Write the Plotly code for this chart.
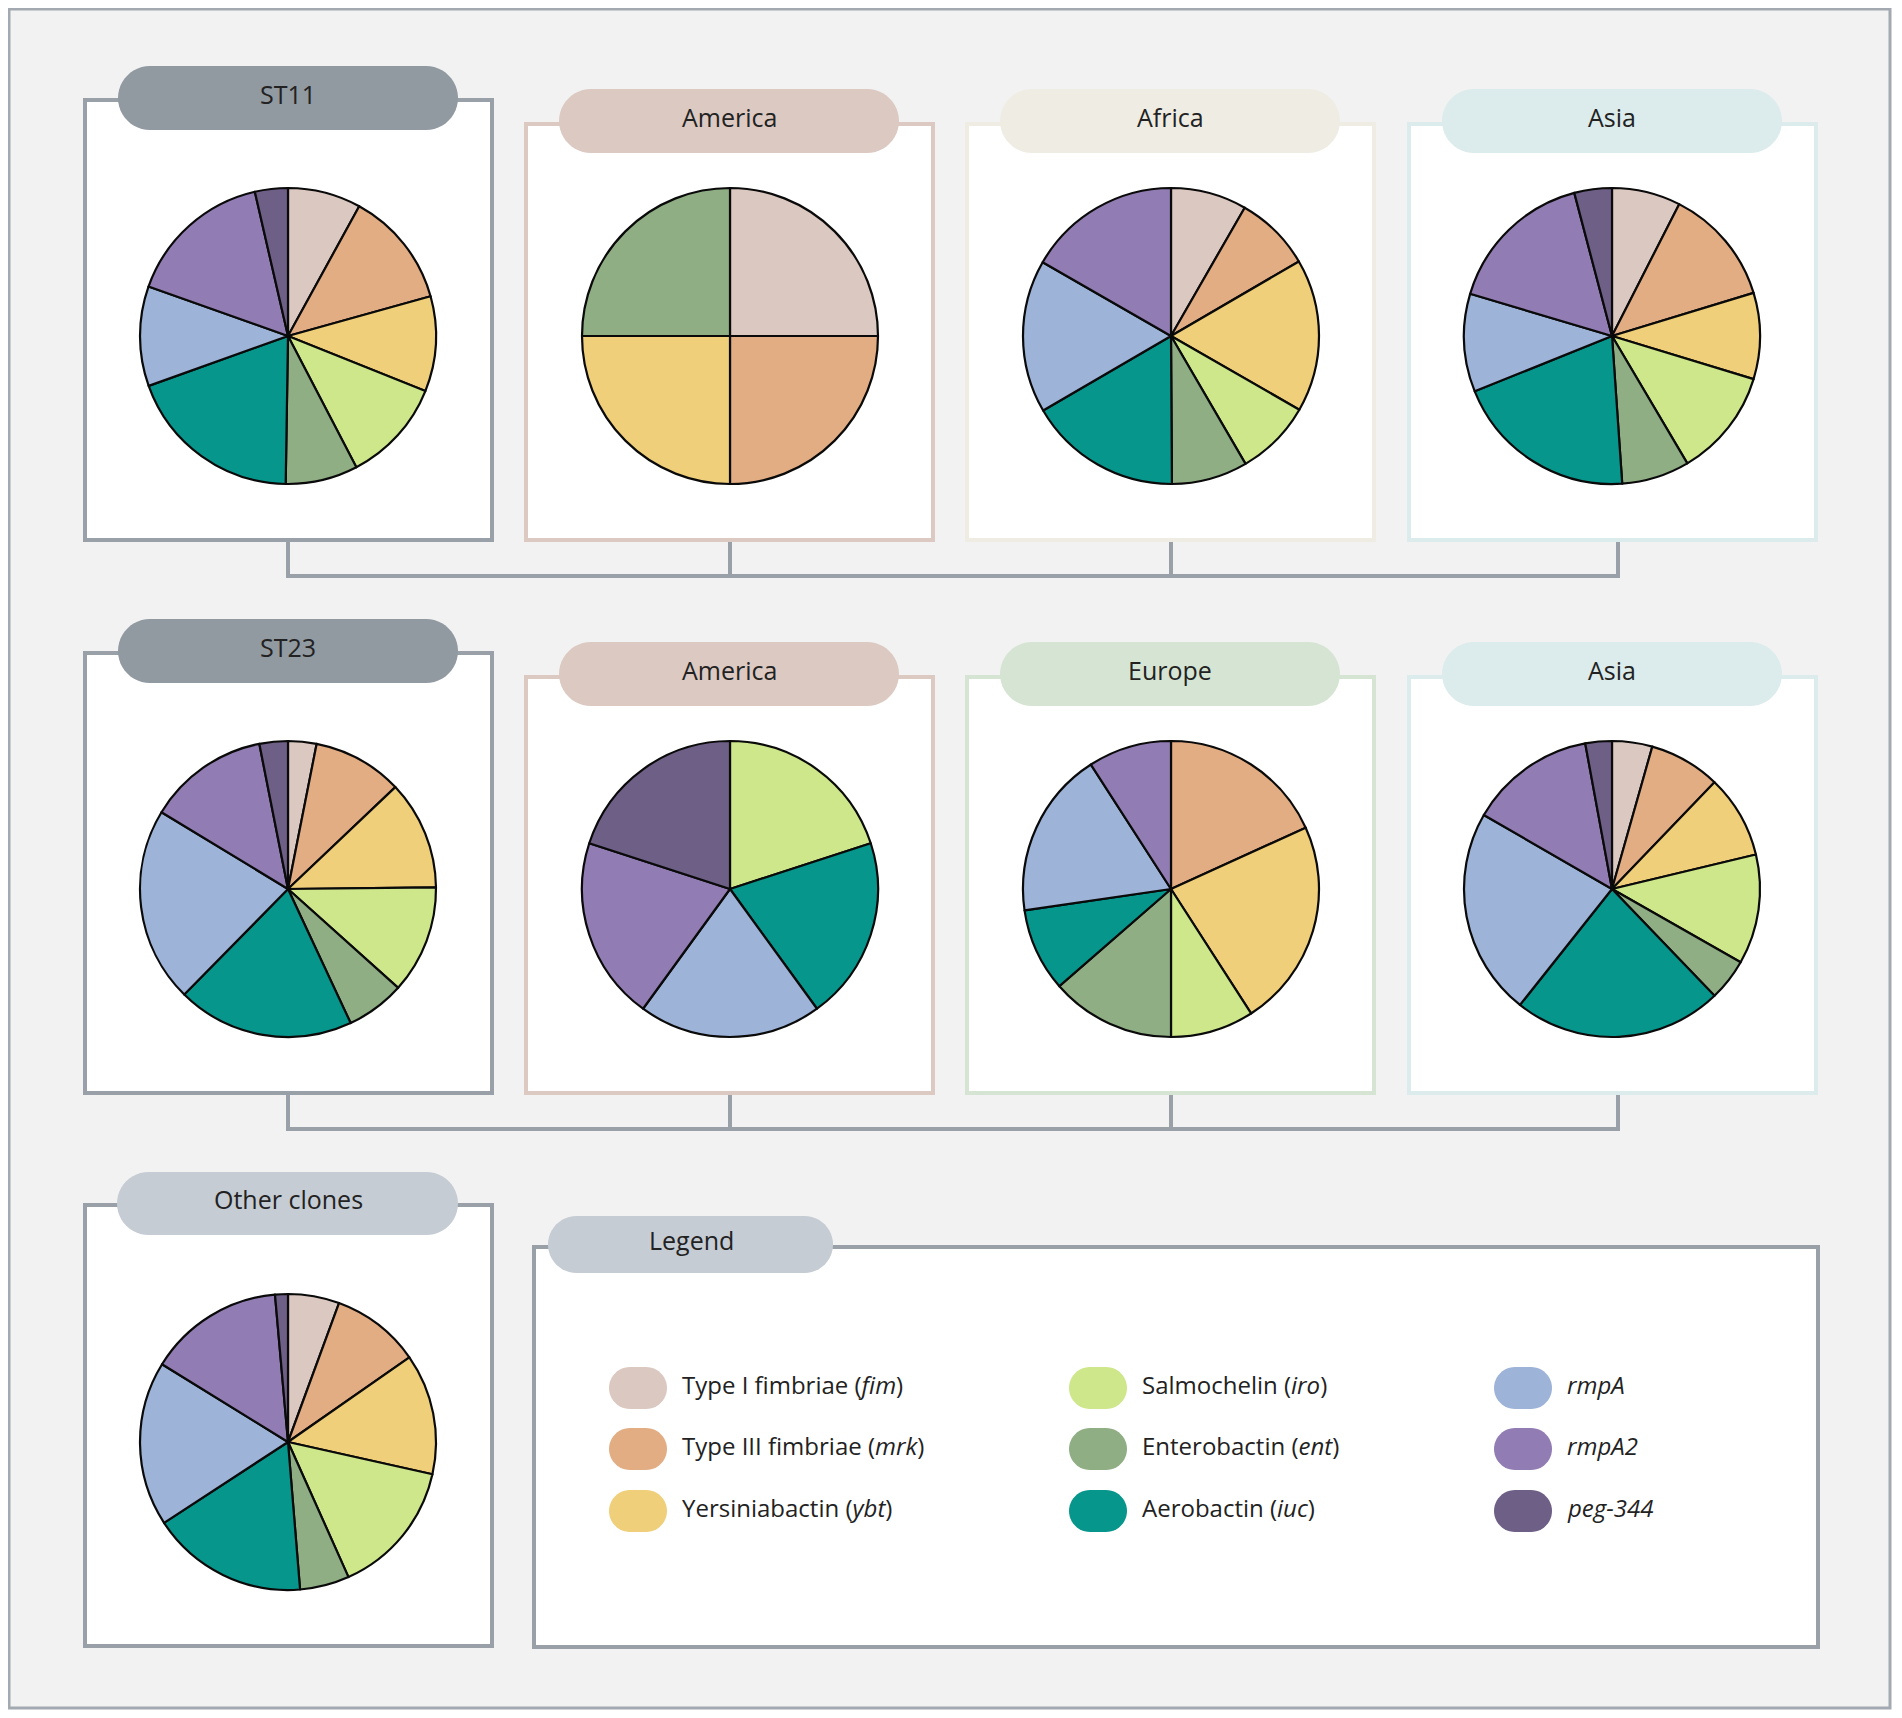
import numpy as np
import plotly.graph_objects as go

# virulence loci, in slice order (clockwise from 12 o'clock)
genes = ["fim", "mrk", "ybt", "iro", "ent", "iuc", "rmpA", "rmpA2", "peg-344"]
gene_colors = ["#dbc8c0", "#e3ad84", "#f0cf7a", "#cde78a", "#8fae84",
               "#07968c", "#9db3d8", "#917db3", "#6e5f86"]
legend_labels = ["Type I fimbriae (<i>fim</i>)", "Type III fimbriae (<i>mrk</i>)",
                 "Yersiniabactin (<i>ybt</i>)", "Salmochelin (<i>iro</i>)",
                 "Enterobactin (<i>ent</i>)", "Aerobactin (<i>iuc</i>)",
                 "<i>rmpA</i>", "<i>rmpA2</i>", "<i>peg-344</i>"]

# share of each locus (%)
st11_all    = [8.0, 12.7, 10.4, 11.3, 7.9, 19.3, 10.9, 16.0, 3.6]
st11_amer   = [25, 25, 25, 0, 25, 0, 0, 0, 0]
st11_africa = [8.3, 8.3, 16.7, 8.3, 8.3, 16.7, 16.7, 16.7, 0]
st11_asia   = [7.5, 12.8, 9.4, 11.8, 7.4, 20.0, 10.7, 16.3, 4.1]
st23_all    = [3.1, 9.8, 11.9, 11.8, 6.4, 19.3, 21.3, 13.2, 3.1]
st23_amer   = [0, 0, 0, 20, 0, 20, 20, 20, 20]
st23_europe = [0, 18.2, 22.7, 9.1, 13.6, 9.1, 18.2, 9.1, 0]
st23_asia   = [4.4, 7.8, 9.1, 12.0, 4.6, 22.9, 22.7, 13.8, 2.9]
other_clones = [5.6, 9.7, 13.2, 14.8, 5.4, 17.1, 18.0, 14.8, 1.4]

W, H = 1886, 1702   # figure size; page adds 8px body margin
OX, OY = 8, 8

BORDER = "#9aa0a8"
TXT = "#222222"
FONT = "Open Sans"

fig = go.Figure()
shapes, annots = [], []


def pill(x0, y0, x1, y1, color):
    r = (y1 - y0) / 2
    pts = []
    for a in np.linspace(-np.pi / 2, np.pi / 2, 25):
        pts.append((x1 - r + r * np.cos(a), (y0 + y1) / 2 + r * np.sin(a)))
    for a in np.linspace(np.pi / 2, 3 * np.pi / 2, 25):
        pts.append((x0 + r + r * np.cos(a), (y0 + y1) / 2 + r * np.sin(a)))
    path = "M " + " L ".join(f"{x:.1f},{y:.1f}" for x, y in pts) + " Z"
    return dict(type="path", path=path, xref="x", yref="y", fillcolor=color,
                line=dict(width=0), layer="below")


def box(x0, y0, x1, y1, color, width=4, fill="white"):
    return dict(type="rect", x0=x0, y0=y0, x1=x1, y1=y1, xref="x", yref="y",
                fillcolor=fill, line=dict(color=color, width=width), layer="below")


def label(x, y, text, size=25, anchor="center"):
    return dict(x=x, y=y, xref="x", yref="y", text=text, showarrow=False,
                xanchor=anchor, yanchor="middle",
                font=dict(family=FONT, size=size, color=TXT))


def add_pie(vals, cx, cy, r=148):
    lab = [g for g, v in zip(genes, vals) if v > 0]
    col = [c for c, v in zip(gene_colors, vals) if v > 0]
    v = [x for x in vals if x > 0]
    fig.add_trace(go.Pie(
        values=v, labels=lab, sort=False, direction="clockwise", rotation=0,
        marker=dict(colors=col, line=dict(color="#0a0a0a", width=2.2)),
        textinfo="none", hoverinfo="label+percent", showlegend=False,
        domain=dict(x=[(cx - r - OX) / W, (cx + r - OX) / W],
                    y=[(OY + H - (cy + r)) / H, (OY + H - (cy - r)) / H]),
    ))


# outer frame
shapes.append(box(9, 9, 1890, 1708, "#a3a9b0", width=3, fill="#f2f2f2"))

box_x = [85, 526, 967, 1409]
pie_x = [288, 730, 1171, 1612]
conn_x = [288, 730, 1171, 1618]
rows = [
    ("ST11", [st11_all, st11_amer, st11_africa, st11_asia],
     ["America", "Africa", "Asia"], ["#dcc9c2", "#efede3", "#dcebeb"]),
    ("ST23", [st23_all, st23_amer, st23_europe, st23_asia],
     ["America", "Europe", "Asia"], ["#dcc9c2", "#d6e5d3", "#dcebeb"]),
]
row_step = 553

for k, (clone, data, regions, rcols) in enumerate(rows):
    dy = k * row_step
    bottom = 540 + dy
    # clone panel
    shapes.append(box(box_x[0], 100 + dy, box_x[0] + 407, bottom, BORDER))
    shapes.append(pill(box_x[0] + 33, 66 + dy, box_x[0] + 373, 130 + dy, "#9199a1"))
    annots.append(label(box_x[0] + 203, 94 + dy, clone))
    # region panels
    for j in range(3):
        bx = box_x[j + 1]
        shapes.append(box(bx, 124 + dy, bx + 407, bottom, rcols[j]))
        shapes.append(pill(bx + 33, 89 + dy, bx + 373, 153 + dy, rcols[j]))
        annots.append(label(bx + 203, 117 + dy, regions[j]))
    # connector bracket
    for cx in conn_x:
        shapes.append(dict(type="line", x0=cx, x1=cx, y0=bottom + 2, y1=576 + dy,
                           xref="x", yref="y", line=dict(color=BORDER, width=4),
                           layer="below"))
    shapes.append(dict(type="line", x0=conn_x[0] - 2, x1=conn_x[-1] + 2,
                       y0=576 + dy, y1=576 + dy, xref="x", yref="y",
                       line=dict(color=BORDER, width=4), layer="below"))
    for j, vals in enumerate(data):
        add_pie(vals, pie_x[j], 336 + dy)

# other clones panel
shapes.append(box(85, 1205, 492, 1646, BORDER))
shapes.append(pill(117, 1172, 458, 1235, "#c6ccd4"))
annots.append(label(288, 1199, "Other clones"))
add_pie(other_clones, 288, 1442)

# legend panel
shapes.append(box(534, 1247, 1818, 1647, BORDER))
shapes.append(pill(548, 1216, 833, 1273, "#c6ccd4"))
annots.append(label(691, 1240, "Legend"))

leg_mx = [638, 1098, 1523]
leg_y = [1388, 1449, 1511]
for i, (txt, col) in enumerate(zip(legend_labels, gene_colors)):
    c, rw = divmod(i, 3)
    mx, my = leg_mx[c], leg_y[rw]
    shapes.append(pill(mx - 29, my - 21, mx + 29, my + 21, col))
    annots.append(label(mx + 42, my - 4, txt, size=24, anchor="left"))

fig.update_layout(
    width=W, height=H,
    margin=dict(l=0, r=0, t=0, b=0),
    paper_bgcolor="white", plot_bgcolor="rgba(0,0,0,0)",
    xaxis=dict(range=[OX, OX + W], visible=False, fixedrange=True),
    yaxis=dict(range=[OY + H, OY], visible=False, fixedrange=True),
    shapes=shapes, annotations=annots,
)

fig.write_html("out.html")
